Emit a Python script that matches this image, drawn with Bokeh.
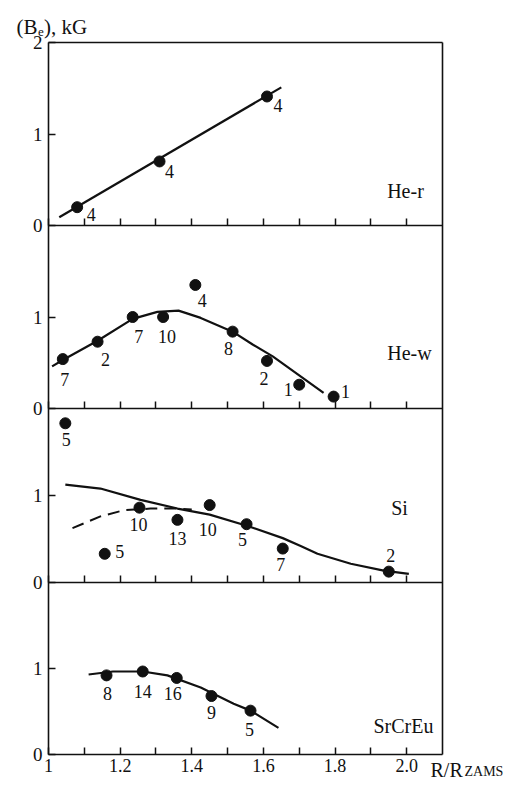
from bokeh.plotting import figure
from bokeh.models import Range1d, FixedTicker, LinearAxis, ColumnDataSource, LabelSet, Label
from bokeh.embed import file_html
from bokeh.resources import INLINE
from bokeh.core.properties import value

# ---------------- data ----------------
x_major = [1.0, 1.2, 1.4, 1.6, 1.8, 2.0]
x_minor = [1.1, 1.3, 1.5, 1.7, 1.9]
x_labels = ["1", "1.2", "1.4", "1.6", "1.8", "2.0"]
x_min, x_max = 1.0, 2.1

panel_names = ["He-r", "He-w", "Si", "SrCrEu"]

her_x = [1.08, 1.31, 1.61]
her_y = [0.20, 0.70, 1.41]
her_n = ["4", "4", "4"]
her_line_x = [1.03, 1.65]
her_line_y = [0.09, 1.51]

hew_x = [1.04, 1.137, 1.235, 1.32, 1.41, 1.514, 1.61, 1.70, 1.796]
hew_y = [0.54, 0.73, 1.0, 1.0, 1.35, 0.84, 0.52, 0.26, 0.13]
hew_n = ["7", "2", "7", "10", "4", "8", "2", "1", "1"]
hew_line_x = [1.01, 1.04, 1.137, 1.235, 1.304, 1.363, 1.425, 1.514, 1.57, 1.626, 1.768]
hew_line_y = [0.46, 0.53, 0.74, 0.98, 1.056, 1.07, 0.99, 0.84, 0.70, 0.57, 0.17]

si_x = [1.047, 1.157, 1.254, 1.36, 1.45, 1.553, 1.654, 1.95]
si_y = [1.83, 0.33, 0.86, 0.72, 0.89, 0.67, 0.39, 0.125]
si_n = ["5", "5", "10", "13", "10", "5", "7", "2"]
si_line_x = [1.047, 1.145, 1.257, 1.36, 1.45, 1.556, 1.654, 1.704, 1.751, 1.844, 1.936, 2.006]
si_line_y = [1.125, 1.08, 0.95, 0.85, 0.78, 0.65, 0.51, 0.42, 0.33, 0.215, 0.136, 0.10]
si_dash_x = [1.067, 1.145, 1.21, 1.285, 1.36, 1.40]
si_dash_y = [0.625, 0.76, 0.83, 0.85, 0.85, 0.84]

sr_x = [1.162, 1.263, 1.358, 1.455, 1.564]
sr_y = [0.92, 0.965, 0.89, 0.68, 0.51]
sr_n = ["8", "14", "16", "9", "5"]
sr_line_x = [1.112, 1.18, 1.263, 1.332, 1.425, 1.517, 1.564, 1.642]
sr_line_y = [0.93, 0.965, 0.965, 0.92, 0.78, 0.59, 0.51, 0.31]

# ---------------- layout / style ----------------
FONT = "Liberation Serif"
INK = "#111111"
W, H = 508, 782
LEFT, TOP = 48, 42            # where the drawn box starts
FW = 394                      # drawn box width
PANEL_H = [183, 183, 174, 172]  # drawn panel heights, top to bottom
FH = sum(PANEL_H)
BOTTOM = H - TOP - FH
KX = FW / (x_max - x_min)     # px per x unit

# label offsets (dx right, dy down, in px)
her_off = [(14, 7), (10, 10), (11, 9)]
hew_off = [(2, 20), (8, 18), (6, 19), (4, 19), (7, 16), (-4, 17), (-3, 18), (-11, 5), (12, -5)]
si_off = [(1, 16), (15, -2), (-1, 17), (0, 19), (-2, 24), (-4, 15), (-2, 16), (2, -16)]
sr_off = [(1, 18), (0, 20), (-4, 16), (0, 16), (-1, 19)]
name_pos = [(357, 564), (361, 402), (351, 247), (355, 29)]

# the plotting frame covers the whole canvas; the visible box is made of axes
p = figure(width=W, height=H,
           x_range=Range1d(x_min - LEFT / KX, x_min + (W - LEFT) / KX),
           y_range=Range1d(-BOTTOM, FH + TOP),
           x_axis_location=None, y_axis_location=None,
           min_border=0, min_border_left=0, min_border_right=0,
           min_border_top=0, min_border_bottom=0,
           output_backend="svg", toolbar_location=None)
p.extra_x_ranges = {"px": Range1d(-LEFT, W - LEFT)}
p.xgrid.visible = False
p.ygrid.visible = False
p.outline_line_color = None
p.background_fill_color = "white"
p.border_fill_color = "white"

# panel ranges
bottoms = []
acc = FH
for h in PANEL_H:
    acc -= h
    bottoms.append(acc)
for name, b, h in zip(panel_names, bottoms, PANEL_H):
    u = h / 2.0
    p.extra_y_ranges[name] = Range1d((-BOTTOM - b) / u, (FH + TOP - b) / u)


def base_axis(ax):
    ax.axis_line_width = 1.6
    ax.axis_line_color = INK
    ax.major_tick_line_color = INK
    ax.minor_tick_line_color = INK
    ax.major_tick_line_width = 1.5
    ax.minor_tick_line_width = 1.5
    ax.major_tick_out = 0
    ax.minor_tick_out = 0
    ax.major_label_text_font = FONT
    ax.major_label_text_color = INK


# left axis: 0 / 1 for every panel, 2 at the top
yticks, ylabels = [], {}
for b, h in zip(bottoms, PANEL_H):
    yticks += [float(b), b + h / 2.0]
    ylabels[float(b)] = "0"
    ylabels[b + h / 2.0] = "1"
yticks.append(float(FH))
ylabels[float(FH)] = "2"
ya = LinearAxis(fixed_location=x_min, bounds=(0, FH))
base_axis(ya)
ya.ticker = FixedTicker(ticks=sorted(yticks))
ya.major_label_overrides = ylabels
ya.major_tick_in = 7
ya.minor_tick_line_color = None
ya.major_label_text_font_size = "19px"
ya.major_label_standoff = 6
p.add_layout(ya, "left")

# right border
ra = LinearAxis(fixed_location=x_max, bounds=(0, FH))
base_axis(ra)
ra.ticker = FixedTicker(ticks=[])
ra.major_tick_line_color = None
ra.minor_tick_line_color = None
ra.major_label_text_font_size = "0px"
p.add_layout(ra, "right")

# top border
ta = LinearAxis(fixed_location=FH, bounds=(x_min, x_max))
base_axis(ta)
ta.ticker = FixedTicker(ticks=[])
ta.major_tick_line_color = None
ta.minor_tick_line_color = None
ta.major_label_text_font_size = "0px"
p.add_layout(ta, "above")


def x_axis(loc, labels):
    ax = LinearAxis(fixed_location=loc, bounds=(x_min, x_max))
    base_axis(ax)
    ax.ticker = FixedTicker(ticks=x_major, minor_ticks=x_minor)
    ax.major_tick_in = 7
    ax.minor_tick_in = 7
    if labels:
        ax.major_label_overrides = dict(zip(x_major, x_labels))
        ax.major_label_text_font_size = "18px"
        ax.major_label_standoff = 4
    else:
        ax.major_label_overrides = {t: "" for t in x_major}
        ax.major_label_text_font_size = "0px"
        ax.major_label_standoff = 0
    p.add_layout(ax, "below")


x_axis(0, True)
for b in bottoms[:-1]:
    x_axis(b, False)


def panel(name, xs, ys, ns, offs, lines, dash=None):
    for lx, ly in lines:
        p.line(lx, ly, y_range_name=name, line_width=2.2, line_color=INK)
    if dash is not None:
        p.line(dash[0], dash[1], y_range_name=name, line_width=2.0,
               line_color=INK, line_dash="12 7")
    p.scatter(xs, ys, y_range_name=name, size=11, fill_color=INK, line_color=INK)
    src = ColumnDataSource(dict(x=xs, y=ys, t=ns,
                                dx=[o[0] for o in offs],
                                dy=[-o[1] for o in offs]))
    p.add_layout(LabelSet(x="x", y="y", text="t", x_offset="dx", y_offset="dy",
                          source=src, y_range_name=name,
                          text_font=value(FONT), text_font_size="18px",
                          text_color=INK, text_align="center",
                          text_baseline="middle"))


panel("He-r", her_x, her_y, her_n, her_off, [(her_line_x, her_line_y)])
panel("He-w", hew_x, hew_y, hew_n, hew_off, [(hew_line_x, hew_line_y)])
panel("Si", si_x, si_y, si_n, si_off, [(si_line_x, si_line_y)], dash=(si_dash_x, si_dash_y))
panel("SrCrEu", sr_x, sr_y, sr_n, sr_off, [(sr_line_x, sr_line_y)])

for name, (nx, ny) in zip(panel_names, name_pos):
    p.add_layout(Label(x=nx, y=ny, x_range_name="px", text=name,
                       text_font=FONT, text_font_size="20px",
                       text_color=INK, text_align="center", text_baseline="middle"))


def txt(x, y, s, size, align="left"):
    p.add_layout(Label(x=x, y=y, x_range_name="px", text=s,
                       text_font=FONT, text_font_size=size,
                       text_color=INK, text_align=align,
                       text_baseline="alphabetic"))


# y-axis title "(B_e), kG"
txt(-11, 728, "(B", "21px", "right")
txt(-10.5, 723, "e", "13px")
txt(-4.5, 728, "), kG", "21px")
# x-axis title "R/R_ZAMS"
txt(382, -15, "R/R", "20px")
txt(416, -17, "ZAMS", "14px")

open("out.html", "w").write(file_html(p, INLINE))
